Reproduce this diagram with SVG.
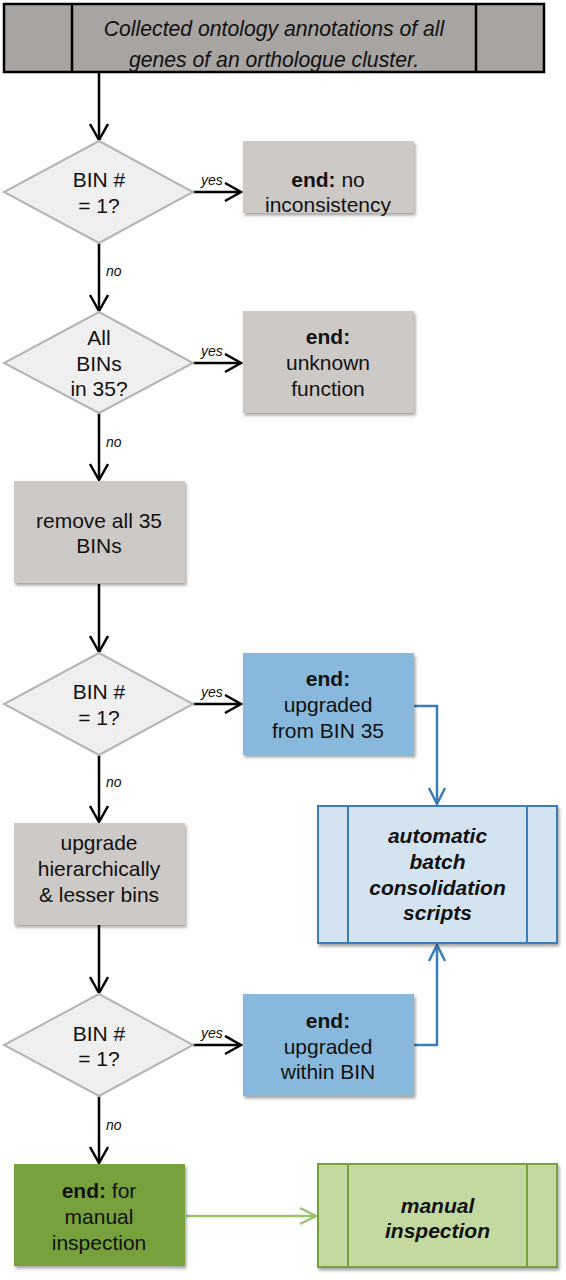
<svg xmlns="http://www.w3.org/2000/svg" width="566" height="1280" viewBox="0 0 566 1280">
<defs>
<style>
text{font-family:"Liberation Sans",Arial,sans-serif;font-size:21px;fill:#111;text-anchor:middle}
.b{font-weight:bold}
.i{font-style:italic;font-size:21.2px}
.bi{font-weight:bold;font-style:italic}
.lbl{font-size:14px;font-style:italic;text-anchor:start}
.gray{fill:#cdc9c7}
.dia{fill:#f0eff0;stroke:#b7b4b4;stroke-width:2}
.blue{fill:#88b9dd}
.green{fill:#77a13d}
.k{stroke:#000;stroke-width:2.5;fill:none}
.bl{stroke:#3a7db8;stroke-width:2.5;fill:none}
.gr{stroke:#9dc36f;stroke-width:2.5;fill:none}
</style>
<filter id="sh" x="-10%" y="-10%" width="125%" height="130%">
<feDropShadow dx="1.5" dy="2.5" stdDeviation="1.8" flood-color="#000" flood-opacity="0.35"/>
</filter>
<marker id="ak" markerUnits="userSpaceOnUse" markerWidth="20" markerHeight="22" refX="17" refY="10" orient="auto" viewBox="0 0 20 22">
<path d="M1,1 L17,10 L1,19" fill="none" stroke="#000" stroke-width="2.5"/>
</marker>
<marker id="ab" markerUnits="userSpaceOnUse" markerWidth="20" markerHeight="22" refX="17" refY="10" orient="auto" viewBox="0 0 20 22">
<path d="M1,2 L17,10 L1,18" fill="none" stroke="#3a7db8" stroke-width="2.5"/>
</marker>
<marker id="ag" markerUnits="userSpaceOnUse" markerWidth="20" markerHeight="22" refX="17" refY="10" orient="auto" viewBox="0 0 20 22">
<path d="M1,2 L17,10 L1,18" fill="none" stroke="#9dc36f" stroke-width="2.5"/>
</marker>
</defs>
<rect width="566" height="1280" fill="#fff"/>

<g id="connectors">
<line class="k" x1="99" y1="73" x2="99" y2="140" marker-end="url(#ak)"/>
<line class="k" x1="193" y1="192" x2="241" y2="192" marker-end="url(#ak)"/>
<line class="k" x1="99" y1="243" x2="99" y2="311" marker-end="url(#ak)"/>
<line class="k" x1="193" y1="363" x2="241" y2="363" marker-end="url(#ak)"/>
<line class="k" x1="99" y1="413" x2="99" y2="480" marker-end="url(#ak)"/>
<line class="k" x1="99" y1="584" x2="99" y2="652" marker-end="url(#ak)"/>
<line class="k" x1="193" y1="704" x2="241" y2="704" marker-end="url(#ak)"/>
<line class="k" x1="99" y1="755" x2="99" y2="822" marker-end="url(#ak)"/>
<line class="k" x1="99" y1="925" x2="99" y2="993" marker-end="url(#ak)"/>
<line class="k" x1="193" y1="1045" x2="241" y2="1045" marker-end="url(#ak)"/>
<line class="k" x1="99" y1="1096" x2="99" y2="1163" marker-end="url(#ak)"/>
<polyline class="bl" points="414,706 437,706 437,804" marker-end="url(#ab)"/>
<polyline class="bl" points="414,1045 437,1045 437,945" marker-end="url(#ab)"/>
<line class="gr" x1="186" y1="1216" x2="316" y2="1216" marker-end="url(#ag)"/>
<text class="lbl" x="201" y="185">yes</text>
<text class="lbl" x="106" y="276">no</text>
<text class="lbl" x="201" y="356">yes</text>
<text class="lbl" x="106" y="447">no</text>
<text class="lbl" x="201" y="697">yes</text>
<text class="lbl" x="106" y="787">no</text>
<text class="lbl" x="201" y="1038">yes</text>
<text class="lbl" x="106" y="1130">no</text>
</g>

<g id="start">
<rect x="4" y="4" width="540" height="68" fill="#a8a4a2" stroke="#000" stroke-width="2.5"/>
<line x1="72" y1="4" x2="72" y2="72" stroke="#000" stroke-width="2.5"/>
<line x1="476" y1="4" x2="476" y2="72" stroke="#000" stroke-width="2.5"/>
<text class="i" x="274" y="36">Collected ontology annotations of all</text>
<text class="i" x="274" y="67">genes of an orthologue cluster.</text>
</g>

<g id="d1">
<polygon class="dia" points="99,141 193,192 99,243 4,192"/>
<text x="99" y="187">BIN #</text>
<text x="99" y="213">= 1?</text>
</g>
<g id="e1">
<rect class="gray" x="243" y="141" width="171" height="72" filter="url(#sh)"/>
<text x="328" y="187"><tspan class="b">end:</tspan> no</text>
<text x="328" y="212">inconsistency</text>
</g>

<g id="d2">
<polygon class="dia" points="99,312 193,363 99,413 4,363"/>
<text x="99" y="345">All</text>
<text x="99" y="371">BINs</text>
<text x="99" y="396">in 35?</text>
</g>
<g id="e2">
<rect class="gray" x="243" y="311" width="171" height="102" filter="url(#sh)"/>
<text class="b" x="328" y="344">end:</text>
<text x="328" y="370">unknown</text>
<text x="328" y="396">function</text>
</g>

<g id="remove">
<rect class="gray" x="14" y="481" width="171" height="102" filter="url(#sh)"/>
<text x="99" y="528">remove all 35</text>
<text x="99" y="553">BINs</text>
</g>

<g id="d3">
<polygon class="dia" points="99,653 193,704 99,755 4,704"/>
<text x="99" y="699">BIN #</text>
<text x="99" y="725">= 1?</text>
</g>
<g id="e3">
<rect class="blue" x="243" y="653" width="171" height="102" filter="url(#sh)"/>
<text class="b" x="328" y="686">end:</text>
<text x="328" y="712">upgraded</text>
<text x="328" y="738">from BIN 35</text>
</g>

<g id="upgrade">
<rect class="gray" x="14" y="823" width="171" height="102" filter="url(#sh)"/>
<text x="99" y="850">upgrade</text>
<text x="99" y="876">hierarchically</text>
<text x="99" y="902">&amp; lesser bins</text>
</g>

<g id="auto">
<rect x="318" y="806" width="239" height="137" fill="#d3e3f0" stroke="#3a7db8" stroke-width="2" filter="url(#sh)"/>
<line x1="348" y1="806" x2="348" y2="943" stroke="#3a7db8" stroke-width="2"/>
<line x1="527" y1="806" x2="527" y2="943" stroke="#3a7db8" stroke-width="2"/>
<text class="bi" x="437.5" y="843">automatic</text>
<text class="bi" x="437.5" y="869">batch</text>
<text class="bi" x="437.5" y="895">consolidation</text>
<text class="bi" x="437.5" y="920">scripts</text>
</g>

<g id="d4">
<polygon class="dia" points="99,994 193,1045 99,1096 4,1045"/>
<text x="99" y="1041">BIN #</text>
<text x="99" y="1066">= 1?</text>
</g>
<g id="e4">
<rect class="blue" x="243" y="994" width="171" height="102" filter="url(#sh)"/>
<text class="b" x="328" y="1028">end:</text>
<text x="328" y="1054">upgraded</text>
<text x="328" y="1079">within BIN</text>
</g>

<g id="manualend">
<rect class="green" x="14" y="1164" width="171" height="102" filter="url(#sh)"/>
<text x="99" y="1198"><tspan class="b">end:</tspan> for</text>
<text x="99" y="1224">manual</text>
<text x="99" y="1250">inspection</text>
</g>

<g id="manual">
<rect x="318" y="1164" width="239" height="103" fill="#c4d9a0" stroke="#77a13d" stroke-width="2" filter="url(#sh)"/>
<line x1="348" y1="1164" x2="348" y2="1267" stroke="#77a13d" stroke-width="2"/>
<line x1="527" y1="1164" x2="527" y2="1267" stroke="#77a13d" stroke-width="2"/>
<text class="bi" x="437.5" y="1213">manual</text>
<text class="bi" x="437.5" y="1238">inspection</text>
</g>
</svg>
